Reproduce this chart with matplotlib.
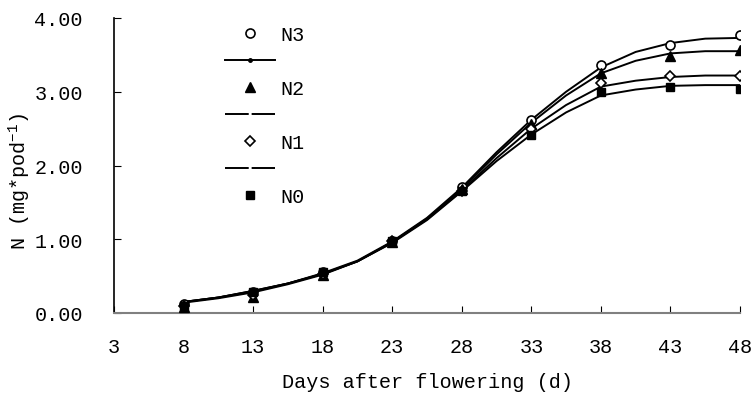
import matplotlib
matplotlib.use("Agg")
import matplotlib.pyplot as plt
from matplotlib.lines import Line2D

# measured points (markers)
days = [8, 13, 18, 23, 28, 33, 38, 43, 48]
n3 = [0.12, 0.28, 0.55, 0.98, 1.71, 2.62, 3.36, 3.64, 3.77]
n2 = [0.08, 0.22, 0.52, 0.96, 1.68, 2.56, 3.25, 3.48, 3.57]
n1 = [0.10, 0.25, 0.53, 0.97, 1.66, 2.50, 3.12, 3.21, 3.21]
n0 = [0.09, 0.28, 0.55, 0.98, 1.65, 2.42, 3.00, 3.07, 3.04]

# fitted curves
fit_days = [8, 10.5, 13, 15.5, 18, 20.5, 23, 25.5, 28, 30.5, 33, 35.5, 38, 40.5, 43, 45.5, 48]
fit_n3 = [0.15, 0.21, 0.30, 0.40, 0.54, 0.71, 0.97, 1.29, 1.70, 2.18, 2.62, 3.00, 3.33, 3.54, 3.66, 3.72, 3.73]
fit_n2 = [0.15, 0.21, 0.30, 0.40, 0.53, 0.70, 0.96, 1.28, 1.68, 2.15, 2.58, 2.95, 3.25, 3.42, 3.52, 3.55, 3.55]
fit_n1 = [0.15, 0.21, 0.29, 0.40, 0.53, 0.70, 0.96, 1.27, 1.66, 2.10, 2.50, 2.82, 3.07, 3.15, 3.20, 3.22, 3.22]
fit_n0 = [0.14, 0.20, 0.28, 0.39, 0.52, 0.70, 0.95, 1.26, 1.65, 2.06, 2.42, 2.72, 2.95, 3.03, 3.08, 3.09, 3.09]

xticks = [3, 8, 13, 18, 23, 28, 33, 38, 43, 48]
yticks = [0, 1, 2, 3, 4]

FS = 14.5

plt.rcParams["font.family"] = ["Liberation Mono", "DejaVu Sans Mono"]
plt.rcParams["mathtext.fontset"] = "custom"
plt.rcParams["mathtext.rm"] = "Liberation Mono"
plt.rcParams["mathtext.default"] = "regular"

fig = plt.figure(figsize=(7.53, 4.02), dpi=100)
ax = fig.add_axes([114 / 753, 1 - 314 / 402, (740 - 114) / 753, (314 - 19) / 402])

for fy in (fit_n3, fit_n2, fit_n1, fit_n0):
    ax.plot(fit_days, fy, color="black", lw=1.4, zorder=2)

ax.plot(days, n3, ls="none", marker="o", ms=6.5, mfc="white", mec="black", mew=1.2, zorder=3)
ax.plot(days, n2, ls="none", marker="^", ms=6.5, mfc="black", mec="black", zorder=3)
ax.plot(days, n1, ls="none", marker="D", ms=5, mfc="white", mec="black", mew=1.2, zorder=3)
ax.plot(days, n0, ls="none", marker="s", ms=6, mfc="black", mec="black", zorder=3)

ax.set_xlim(3, 48)
ax.set_ylim(0, 4)
ax.set_xticks(xticks)
ax.set_xticklabels([str(t) for t in xticks])
ax.set_yticks(yticks)
ax.set_yticklabels([f"{t:.2f}" for t in yticks])
ax.tick_params(axis="both", direction="in", length=5, labelsize=FS, colors="black")
ax.tick_params(axis="x", pad=17.5)
ax.tick_params(axis="y", pad=22.5)
ax.spines["top"].set_visible(False)
ax.spines["right"].set_visible(False)
ax.spines["bottom"].set_color("#808080")
ax.spines["bottom"].set_linewidth(1.5)
ax.spines["left"].set_color("black")
ax.spines["left"].set_linewidth(1.2)

ax.set_xlabel("Days after flowering (d)", fontsize=FS, labelpad=11)
ax.set_ylabel("N (mg*pod$^{-1}$)", fontsize=FS)
ax.yaxis.set_label_coords(-0.13, 0.45)

handles = [
    Line2D([], [], ls="none", marker="o", ms=6.5, mfc="white", mec="black", mew=1.2),
    Line2D([], [], color="black", lw=1.4, marker="o", ms=2.5),
    Line2D([], [], ls="none", marker="^", ms=6.5, mfc="black", mec="black"),
    Line2D([], [], color="black", lw=1.4, dashes=(12.2, 1.5)),
    Line2D([], [], ls="none", marker="D", ms=5, mfc="white", mec="black", mew=1.2),
    Line2D([], [], color="black", lw=1.4, dashes=(12.2, 1.5)),
    Line2D([], [], ls="none", marker="s", ms=6, mfc="black", mec="black"),
]
labels = ["N3", "", "N2", "", "N1", "", "N0"]
fig.legend(handles, labels, loc="upper left", bbox_to_anchor=(225 / 753, 1 - 26 / 402),
           frameon=False, fontsize=FS, handlelength=2.5, handletextpad=0.25,
           labelspacing=0.4, borderaxespad=0, borderpad=0)

fig.savefig("out.png", dpi=100)
